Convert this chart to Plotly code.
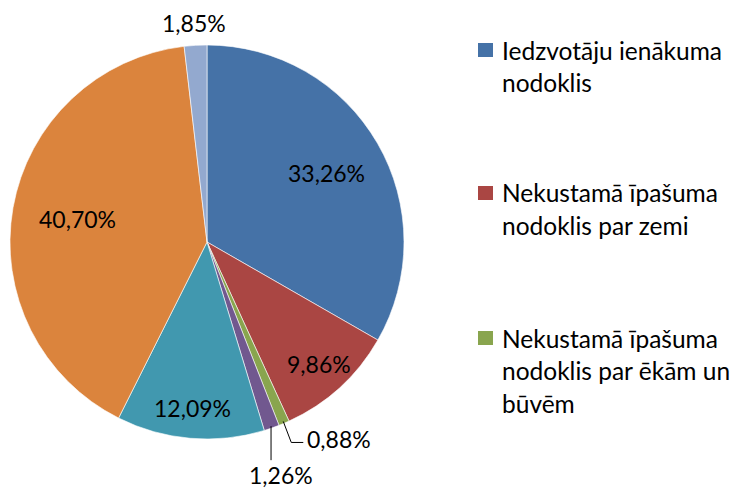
import numpy as np
import plotly.graph_objects as go

# pašvaldības ieņēmumu struktūra, %
labels = [
    "Iedzvotāju ienākuma nodoklis",
    "Nekustamā īpašuma nodoklis par zemi",
    "Nekustamā īpašuma nodoklis par ēkām un būvēm",
    "Nekustamā īpašuma nodoklis par mājokļiem",
    "Nenodokļu ieņēmumi",
    "Transferti",
    "Citi ieņēmumi",
]
values = [33.26, 9.86, 0.88, 1.26, 12.09, 40.70, 1.85]
colors = ["#4572A7", "#AA4643", "#89A54E", "#71588F", "#4198AF", "#DB843D", "#93A9CF"]
legend_lines = [
    ["Iedzvotāju ienākuma", "nodoklis"],
    ["Nekustamā īpašuma", "nodoklis par zemi"],
    ["Nekustamā īpašuma", "nodoklis par ēkām un", "būvēm"],
]

W, H = 733, 488
cx, cy, R = 207, 242, 197
FONT = "Lato"
LBL = 23
LEG = 24.5

def px2paper(x, y):
    return x / W, 1 - y / H

def fmt(v):
    return f"{v:.2f}".replace(".", ",") + "%"

fig = go.Figure(go.Pie(
    labels=labels,
    values=values,
    sort=False,
    direction="clockwise",
    rotation=0,
    marker=dict(colors=colors, line=dict(color="white", width=0.6)),
    textinfo="none",
    showlegend=False,
    domain=dict(x=[(cx - R) / W, (cx + R) / W], y=[1 - (cy + R) / H, 1 - (cy - R) / H]),
))

# leņķi no datiem
tot = sum(values)
cum = np.cumsum([0] + values[:-1]) / tot
mid = (cum + np.array(values) / tot / 2) * 2 * np.pi

def at(i, r):
    return cx + r * np.sin(mid[i]), cy - r * np.cos(mid[i])

annotations = []
shapes = []

def label(px, py, text, size=LBL, xanchor="center"):
    x, y = px2paper(px, py)
    annotations.append(dict(x=x, y=y, xref="paper", yref="paper", text=text,
                            xanchor=xanchor, yanchor="middle", showarrow=False,
                            font=dict(size=size, family=FONT, color="black")))

# uzraksti iekšpusē
inside = {0: 0.70, 1: 0.84, 4: 0.845, 5: 0.67}
for i, rf in inside.items():
    label(*at(i, rf * R), fmt(values[i]))

# 1,85% virs apļa
label(*at(6, 1.115 * R), fmt(values[6]))

# 0,88% ar lauztu līniju
ex, ey = at(2, R - 2)
pts = [px2paper(ex, ey), px2paper(ex + 8, ey + 21), px2paper(ex + 20, ey + 21)]
shapes.append(dict(type="path", xref="paper", yref="paper",
                   path="M {} {} L {} {} L {} {}".format(*[c for p in pts for c in p]),
                   line=dict(color="black", width=1)))
label(ex + 22, ey + 18, fmt(values[2]), xanchor="left")

# 1,26% ar vertikālu līniju
ex, ey = at(3, R - 2)
p0 = px2paper(ex, ey)
p1 = px2paper(ex, ey + 34)
shapes.append(dict(type="line", xref="paper", yref="paper", x0=p0[0], y0=p0[1], x1=p1[0], y1=p1[1],
                   line=dict(color="black", width=1)))
label(ex + 10, ey + 49, fmt(values[3]))

# leģenda (redzami tikai pirmie trīs ieraksti)
leg_y = [50, 193, 338]
for k, lines in enumerate(legend_lines):
    y0 = leg_y[k]
    a0 = px2paper(478, y0 - 7)
    a1 = px2paper(493, y0 + 7)
    shapes.append(dict(type="rect", xref="paper", yref="paper", x0=a0[0], y0=a1[1], x1=a1[0], y1=a0[1],
                       fillcolor=colors[k], line=dict(width=0)))
    for j, line in enumerate(lines):
        label(500, y0 + j * 32.5, line, size=LEG, xanchor="left")

fig.update_layout(
    width=W, height=H,
    margin=dict(l=0, r=0, t=0, b=0),
    paper_bgcolor="white",
    annotations=annotations,
    shapes=shapes,
)

fig.write_html("out.html", config={"displayModeBar": False},
               post_script="document.body.style.margin='0';")
